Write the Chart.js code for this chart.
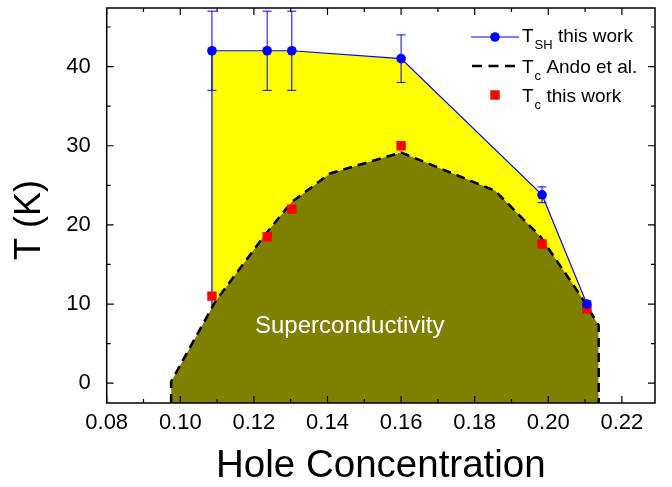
<!DOCTYPE html>
<html>
<head>
<meta charset="utf-8">
<script src="https://cdn.jsdelivr.net/npm/chart.js@4"></script>
<style>
body { margin: 0; background: #fff; }
#wrap { width: 672px; height: 487px; position: relative; }
</style>
</head>
<body>
<div id="wrap"><canvas id="phase"></canvas></div>
<script>
"use strict"

//Samples of this work (hole concentration, T_SH with error, Tc)
const doping = [0.1086, 0.1236, 0.1303, 0.1600, 0.1983, 0.2105];
const tSH = [42, 42, 42, 41, 23.8, 10.0];
const tSHErr = [5, 5, 5, 3, 1, 0.4];
const tcThis = [11.0, 18.5, 22.0, 30.0, 17.6, 9.4];

//Tc dome from Ando et al.
const andoX = [0.0975, 0.0975, 0.1095, 0.1226, 0.1303, 0.1407, 0.1600, 0.1856, 0.1979, 0.2087, 0.2137, 0.2137];
const andoT = [-2.5, 0.2, 10.3, 18.5, 22.9, 26.5, 29.15, 24.3, 18.5, 11.1, 7.3, -2.5];

//Axes
const xTicks = [0.08, 0.10, 0.12, 0.14, 0.16, 0.18, 0.20, 0.22];
const yTicks = [0, 10, 20, 30, 40];
const xRange = [0.08, 0.229];
const yRange = [-2.5, 47.4];

const FONT = "'Liberation Sans', Arial, sans-serif";

const pts = (xs, ys) => xs.map((x, i) => ({x: x, y: ys[i]}));

//Yellow region under the T_SH line (the dome is painted over it)
const shArea = [{x: doping[0], y: yRange[0]}]
    .concat(pts(doping, tSH))
    .concat([{x: doping[doping.length - 1], y: yRange[0]}]);

//Minor ticks halfway between the major ones
function minors(ticks, max) {
    const step = ticks[1] - ticks[0];
    return ticks.map(t => t + step / 2).filter(t => t <= max);
}

//Text with a subscript, e.g. T_SH this work
function subText(ctx, x, y, main, sub, rest) {
    ctx.font = "19px " + FONT;
    ctx.fillText(main, x, y);
    x += ctx.measureText(main).width + 1;
    ctx.font = "13px " + FONT;
    ctx.fillText(sub, x, y + 7);
    x += ctx.measureText(sub).width;
    ctx.font = "19px " + FONT;
    ctx.fillText(rest, x, y);
}

const extras = {
    id: 'extras',
    afterDatasetsDraw(chart) {
        const {ctx, scales: {x, y}} = chart;
        ctx.save();

        //Error bars on T_SH
        ctx.strokeStyle = '#0000ff';
        ctx.lineWidth = 1;
        for(let i = 0; i < doping.length; i++) {
            const px = x.getPixelForValue(doping[i]);
            const top = y.getPixelForValue(tSH[i] + tSHErr[i]);
            const bot = y.getPixelForValue(tSH[i] - tSHErr[i]);
            ctx.beginPath();
            ctx.moveTo(px, top); ctx.lineTo(px, bot);
            ctx.moveTo(px - 4.5, top); ctx.lineTo(px + 4.5, top);
            ctx.moveTo(px - 4.5, bot); ctx.lineTo(px + 4.5, bot);
            ctx.stroke();
        }

        //Label inside the dome
        ctx.fillStyle = '#ffffff';
        ctx.font = "24px " + FONT;
        ctx.textBaseline = 'alphabetic';
        ctx.fillText('Superconductivity', x.getPixelForValue(0.1203), y.getPixelForValue(6.3));
        ctx.restore();
    },
    afterDraw(chart) {
        const {ctx, chartArea: a, scales: {x, y}} = chart;
        ctx.save();

        //Frame
        ctx.strokeStyle = '#000';
        ctx.lineWidth = 1.5;
        ctx.strokeRect(a.left, a.top, a.right - a.left, a.bottom - a.top);

        //Inward ticks on all four sides
        ctx.lineWidth = 1.2;
        ctx.beginPath();
        const xt = xTicks.map(v => [v, 7]).concat(minors(xTicks, xRange[1]).map(v => [v, 4]));
        xt.forEach(([v, len]) => {
            const px = x.getPixelForValue(v);
            ctx.moveTo(px, a.bottom); ctx.lineTo(px, a.bottom - len);
            ctx.moveTo(px, a.top); ctx.lineTo(px, a.top + len);
        });
        const yt = yTicks.map(v => [v, 7]).concat(minors(yTicks, yRange[1]).map(v => [v, 4]));
        yt.forEach(([v, len]) => {
            const py = y.getPixelForValue(v);
            ctx.moveTo(a.left, py); ctx.lineTo(a.left + len, py);
            ctx.moveTo(a.right, py); ctx.lineTo(a.right - len, py);
        });
        ctx.stroke();

        //Y title
        ctx.fillStyle = '#000';
        ctx.font = "36px " + FONT;
        ctx.textAlign = 'center';
        ctx.textBaseline = 'middle';
        ctx.translate(30, 220);
        ctx.rotate(-Math.PI / 2);
        ctx.fillText('T (K)', 0, 0);
        ctx.restore();

        //Legend
        ctx.save();
        const lx = 471, tx = 522;
        ctx.fillStyle = '#000';
        ctx.textAlign = 'left';
        ctx.textBaseline = 'alphabetic';

        ctx.strokeStyle = '#0000ff';
        ctx.lineWidth = 1;
        ctx.beginPath(); ctx.moveTo(lx, 37); ctx.lineTo(lx + 48, 37); ctx.stroke();
        ctx.fillStyle = '#0000ff';
        ctx.beginPath(); ctx.arc(lx + 24, 37, 4.8, 0, Math.PI * 2); ctx.fill();
        ctx.fillStyle = '#000';
        subText(ctx, tx, 42, 'T', 'SH', ' this work');

        ctx.strokeStyle = '#000';
        ctx.lineWidth = 2.5;
        ctx.setLineDash([10, 6.5]);
        ctx.beginPath(); ctx.moveTo(lx + 1, 66); ctx.lineTo(lx + 45, 66); ctx.stroke();
        ctx.setLineDash([]);
        subText(ctx, tx, 73, 'T', 'c', ' Ando et al.');

        ctx.fillStyle = '#ff0000';
        ctx.fillRect(lx + 24 - 4.7, 95 - 4.7, 9.4, 9.4);
        ctx.fillStyle = '#000';
        subText(ctx, tx, 101.5, 'T', 'c', ' this work');
        ctx.restore();
    }
};

const canvas = document.getElementById("phase");

new Chart(canvas, {
    type: 'scatter',
    data: {
        datasets: [
            {
                label: 'T_SH area',
                data: shArea,
                showLine: true,
                fill: 'start',
                backgroundColor: '#ffff00',
                borderColor: '#0000ff',
                borderWidth: 1.2,
                pointRadius: 0,
                tension: 0,
                order: 4
            },
            {
                label: 'Tc Ando et al.',
                data: pts(andoX, andoT),
                showLine: true,
                fill: 'start',
                backgroundColor: '#808000',
                borderColor: '#000000',
                borderWidth: 2.5,
                borderDash: [9, 6],
                pointRadius: 0,
                tension: 0,
                order: 3
            },
            {
                label: 'Tc this work',
                data: pts(doping, tcThis),
                pointStyle: 'rect',
                pointRadius: 6.6,
                pointBorderWidth: 0,
                backgroundColor: '#ff0000',
                borderColor: '#ff0000',
                order: 2
            },
            {
                label: 'T_SH this work',
                data: pts(doping, tSH),
                pointStyle: 'circle',
                pointRadius: 4.8,
                pointBorderWidth: 0,
                backgroundColor: '#0000ff',
                borderColor: '#0000ff',
                order: 1
            }
        ]
    },
    options: {
        responsive: true,
        maintainAspectRatio: false,
        animation: false,
        layout: { padding: { left: 0, right: 17, top: 8, bottom: 0 } },
        plugins: {
            legend: { display: false },
            tooltip: { enabled: false }
        },
        scales: {
            x: {
                type: 'linear',
                min: xRange[0],
                max: xRange[1],
                afterBuildTicks: s => { s.ticks = xTicks.map(v => ({value: v})); },
                afterFit: s => { s.height = 84; s.paddingLeft = 0; s.paddingRight = 0; },
                grid: { display: false, drawTicks: false },
                border: { display: false },
                ticks: {
                    color: '#000',
                    font: { family: FONT, size: 22 },
                    padding: 7,
                    maxRotation: 0,
                    autoSkip: false,
                    callback: v => v.toFixed(2)
                },
                title: {
                    display: true,
                    text: 'Hole Concentration',
                    color: '#000',
                    font: { family: FONT, size: 38.5 },
                    padding: { top: 0, bottom: -2 }
                }
            },
            y: {
                type: 'linear',
                min: yRange[0],
                max: yRange[1],
                afterBuildTicks: s => { s.ticks = yTicks.map(v => ({value: v})); },
                afterFit: s => { s.width = 106.7; s.paddingTop = 0; s.paddingBottom = 0; },
                grid: { display: false, drawTicks: false },
                border: { display: false },
                ticks: {
                    color: '#000',
                    font: { family: FONT, size: 22 },
                    padding: 16,
                    callback: v => String(v)
                }
            }
        }
    },
    plugins: [extras]
});
</script>
</body>
</html>
